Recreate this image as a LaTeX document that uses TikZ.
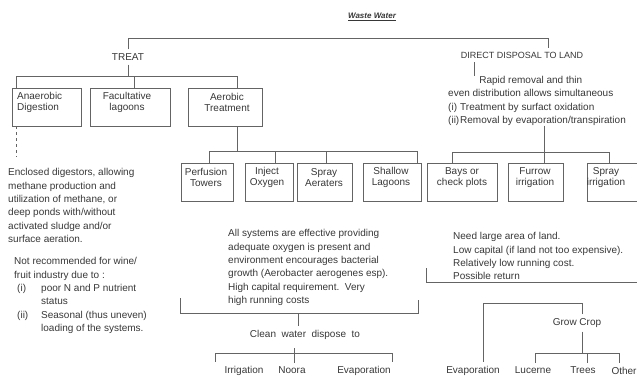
\documentclass[tikz,border=0pt]{standalone}
\usepackage{fontspec}
\setmainfont{Liberation Sans}
\usepackage{calc}
\definecolor{txtc}{RGB}{55,55,55}
\definecolor{linec}{RGB}{100,100,100}
\tikzset{
  ln/.style={draw=linec, line width=0.5pt},
  txt/.style={text=txtc, font=\fontsize{10}{13.3}\selectfont, inner sep=0pt, align=left},
  lbl/.style={text=txtc, font=\fontsize{10}{12}\selectfont, inner sep=4pt},
  boxtxt/.style={text=txtc, font=\fontsize{10}{11.5}\selectfont, inner sep=0pt, align=center},
  box/.style={draw=linec, line width=0.5pt, minimum height=38pt, inner sep=0pt},
  title/.style={text=txtc, font=\fontsize{8}{9}\selectfont\bfseries\itshape, inner sep=2pt},
}
\begin{document}
\begin{tikzpicture}[x=1pt,y=-1pt]
\useasboundingbox (0,0) rectangle (637,378);

% title
\node[title] (ww) at (372,17) {\underline{Waste Water}};

% level 0
\node[lbl] (treat) at (128,57) {TREAT};
\node[lbl, font=\fontsize{9}{11}\selectfont] (direct) at (522,55) {DIRECT DISPOSAL TO LAND};
\coordinate (topR) at (548,38);
\draw[ln] (treat.north) |- (topR) -- (topR |- direct.north);

% treat branch
\node[box, minimum width=69pt] (ana) at (46.5,107) {};
\node[box, minimum width=80pt] (fac) at (130,107) {};
\node[box, minimum width=74pt] (aer) at (225,107) {};
\node[boxtxt, align=left, anchor=west] (anat) at (17,102.5) {Anaerobic\\Digestion};
\node[boxtxt] (fact) at (127,102.5) {Facultative\\lagoons};
\node[boxtxt] (aert) at (227,102.5) {Aerobic\\Treatment};

\coordinate (h1L) at (16,76);
\coordinate (h1R) at (237,76);
\draw[ln] (h1L) -- (h1R);
\draw[ln] (treat.south) -- (treat.south |- h1L);
\draw[ln] (h1L) -- (h1L |- ana.north);
\draw[ln] ([xshift=4pt]fac.north |- h1L) -- ([xshift=4pt]fac.north);
\draw[ln] (h1R) -- (h1R |- aer.north);

% anaerobic dashed
\coordinate (anaEnd) at (16,157);
\draw[ln, dash pattern=on 3pt off 3pt] (h1L |- ana.south) -- (anaEnd);

% aerobic sub-branch
\node[box, minimum width=52pt] (perf) at (207,182) {};
\node[box, minimum width=48pt] (inj) at (269,182) {};
\node[box, minimum width=55pt] (spa) at (324.5,182) {};
\node[box, minimum width=58pt] (sha) at (392,182) {};
\node[boxtxt] (perft) at (206,177.5) {Perfusion\\Towers};
\node[boxtxt] (injt) at (267,177.5) {Inject\\Oxygen};
\node[boxtxt] (spat) at (324,177.5) {Spray\\Aeraters};
\node[boxtxt] (shat) at (391,177.5) {Shallow\\Lagoons};

\coordinate (h2L) at (209,151);
\coordinate (h2R) at (417,151);
\draw[ln] (h1R |- aer.south) -- (h1R |- h2L);
\draw[ln] (h2L) -- (h2R);
\draw[ln] (h2L) -- (h2L |- perf.north);
\draw[ln] ([xshift=6pt]inj.north |- h2L) -- ([xshift=6pt]inj.north);
\draw[ln] ([xshift=1.5pt]spa.north |- h2L) -- ([xshift=1.5pt]spa.north);
\draw[ln] (h2R) -- (h2R |- sha.north);

% left notes
\node[txt, anchor=north west] (encl) at (8,168.5) {Enclosed digestors, allowing\\methane production and\\utilization of methane, or\\deep ponds with/without\\activated sludge and/or\\surface aeration.};
\node[txt, anchor=north west] (notrec) at (14,257.5) {Not recommended for wine/\\fruit industry due to :\\\hspace*{3pt}\makebox[24pt][l]{(i)}poor N and P nutrient\\\hspace*{27pt}status\\\hspace*{3pt}\makebox[24pt][l]{(ii)}Seasonal (thus uneven)\\\hspace*{27pt}loading of the systems.};

% middle notes
\node[txt, anchor=north west] (allsys) at (228,229.5) {All systems are effective providing\\adequate oxygen is present and\\environment encourages bacterial\\growth (Aerobacter aerogenes esp).\\High capital requirement.\ \ Very\\high running costs};

\coordinate (b1L) at (180,298);
\coordinate (b1BL) at (180,313);
\coordinate (b1BR) at (418,313);
\coordinate (b1R) at (418,300);
\coordinate (b1M) at (298,313);
\draw[ln] (b1L) -- (b1BL) -- (b1BR) -- (b1R);
\node[lbl] (clean) at (305,335) {Clean\ \ water\ \ dispose\ \ to};
\draw[ln] (b1M) -- (b1M |- clean.north);

\node[lbl] (irr) at (244,370.5) {Irrigation};
\node[lbl] (noora) at (292,370.5) {Noora};
\node[lbl] (evapA) at (364,370.5) {Evaporation};
\coordinate (b2L) at (215,353);
\coordinate (b2R) at (392,353);
\coordinate (b2M) at (294,353);
\draw[ln] (b2L |- irr.north) -- (b2L) -- (b2R) -- (b2R |- evapA.north);
\draw[ln] ([yshift=5pt]b2M) -- (b2M |- noora.north);

% direct disposal branch
\node[txt, anchor=north west] (rapid) at (448,76) {\makebox[\widthof{even distribution allows simultaneous}]{Rapid removal and thin}\\even distribution allows simultaneous\\\makebox[12pt][l]{(i)}Treatment by surfact oxidation\\\makebox[12pt][l]{(ii)}Removal by evaporation/transpiration};
\draw[ln] ([xshift=-48pt]direct.south) -- ([xshift=-48pt]direct.south |- rapid.north);

\node[box, minimum width=70pt] (bays) at (462,182) {};
\node[box, minimum width=55pt] (fur) at (535.5,182) {};
\node[box, minimum width=62pt] (spr) at (618,182) {};
\node[boxtxt] (bayst) at (462,177.5) {Bays or\\check plots};
\node[boxtxt] (furt) at (535,177.5) {Furrow\\irrigation};
\node[boxtxt] (sprt) at (606,177.5) {Spray\\irrigation};

\coordinate (h3L) at (452,152);
\coordinate (h3M) at (544,152);
\coordinate (h3R) at (609,152);
\draw[ln] (h3M |- rapid.south) -- (h3M);
\draw[ln] (h3L) -- (h3R);
\draw[ln] (h3L) -- (h3L |- bays.north);
\draw[ln] (h3M) -- (h3M |- fur.north);
\draw[ln] (h3R) -- (h3R |- spr.north);

\node[txt, anchor=north west] (need) at (453,232.5) {Need large area of land.\\Low capital (if land not too expensive).\\Relatively low running cost.\\Possible return};
\coordinate (b3T) at (426,268);
\coordinate (b3B) at (426,282);
\coordinate (b3E) at (645,282);
\draw[ln] (b3T) -- (b3B) -- (b3E);

\node[lbl] (grow) at (577,323) {Grow Crop};
\node[lbl] (evapB) at (473,370.5) {Evaporation};
\node[lbl] (luc) at (533,370.5) {Lucerne};
\node[lbl] (trees) at (583,370.5) {Trees};
\node[lbl] (oth) at (624,370.5) {Other};
\coordinate (g1L) at (483,303);
\coordinate (g1R) at (582,303);
\draw[ln] (g1L |- evapB.north) -- (g1L) -- (g1R) -- (g1R |- grow.north);
\coordinate (g2L) at (535,353);
\coordinate (g2C) at (582,353);
\coordinate (g2M) at (587,353);
\coordinate (g2R) at (619,353);
\draw[ln] (g1R |- grow.south) -- (g2C);
\draw[ln] (g2L |- luc.north) -- (g2L) -- (g2R) -- (g2R |- oth.north);
\draw[ln] (g2M) -- (g2M |- trees.north);
\end{tikzpicture}
\end{document}
